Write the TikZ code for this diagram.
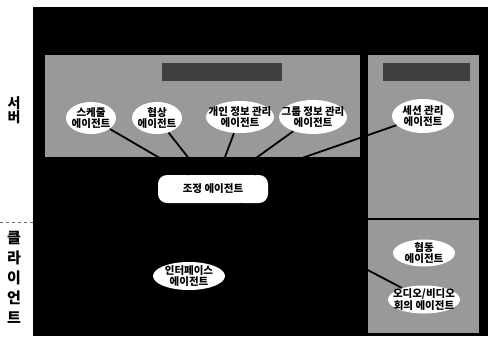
\documentclass[tikz,border=0pt]{standalone}
\usepackage{fontspec}
\setmainfont{Noto Sans CJK KR}
\usetikzlibrary{positioning,
                shapes.geometric}
\tikzset{
every picture/.style={
line width=1pt
}}

\begin{document}
\begin{tikzpicture}[x=1pt, y=-1pt,
    node distance = 18pt and 16pt,
     panel/.style = {fill=black!40, draw=none},
      head/.style = {fill=black!75, draw=none},
      base/.style = {fill=white, align=center,
                     font=\fontsize{10.5}{11.5}\selectfont\bfseries},
     agent/.style = {base, ellipse, inner xsep=-14pt, inner ysep=-10pt},
       hub/.style = {base, rectangle, rounded corners=9pt,
                     minimum width=110pt, minimum height=28pt},
      side/.style = {align=center, inner sep=0pt},
      link/.style = {line width=1.8pt}
                    ]
\useasboundingbox (0,0) rectangle (491,338);
\fill (33,7) rectangle (488,336);
\path[panel] (45,55) rectangle (360,157);
\path[panel] (368,55) rectangle (479,333);
\path[head] (162,63) rectangle (282,81);
\path[head] (383,63) rectangle (470,81);
\draw[link] (368,219) -- (479,219);
\draw[dashed, black!60] (0,222) -- (33,222);
% server side
\node [agent, minimum width=50pt, minimum height=32pt] (sched) at (91,118)  {스케줄\\에이전트};
\node [agent, minimum width=50pt, minimum height=32pt] (nego)  at (157,118) {협상\\에이전트};
\node [agent, minimum width=68pt, minimum height=32pt] (pers)  at (240,117) {개인 정보 관리\\에이전트};
\node [agent, minimum width=68pt, minimum height=34pt] (group) at (313,117) {그룹 정보 관리\\에이전트};
\node [agent, minimum width=62pt, minimum height=34pt] (sess)  at (423,116) {세션 관리\\에이전트};
\node [hub] (coord) at (213,189) {조정 에이전트};
% client side
\node [agent, minimum width=72pt, minimum height=28pt] (iface) at (189,276) {인터페이스\\에이전트};
\node [agent, minimum width=62pt, minimum height=27pt] (coop)  at (424,253) {협동\\에이전트};
\node [agent, minimum width=72pt, minimum height=28pt, below=18pt of coop] (av) {오디오/비디오\\회의 에이전트};
%%
\node [side, font=\fontsize{14}{14}\selectfont\bfseries] (server) at (14,110) {서\\버};
\node [side, font=\fontsize{15}{20}\selectfont\bfseries] (client) at (14,277) {클\\라\\이\\언\\트};
%%
\draw [link] (sched) -- (coord)
             (nego)  -- (coord)
             (pers)  -- (coord)
             (group) -- (coord)
             (sess)  -- (coord)
             (av)    -- (coord);
\end{tikzpicture}
\end{document}
